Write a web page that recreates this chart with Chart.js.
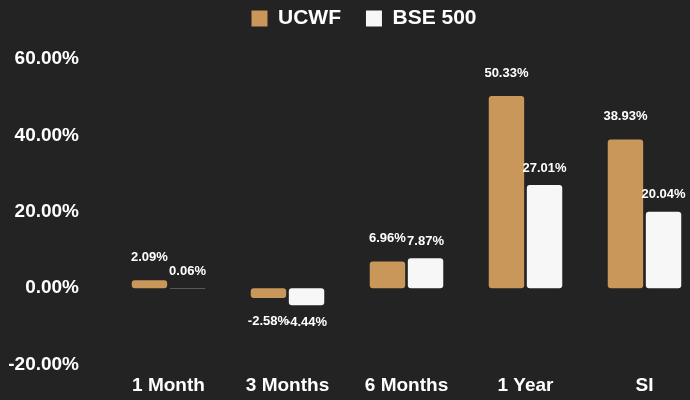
<!DOCTYPE html>
<html><head><meta charset="utf-8">
<script src="https://cdn.jsdelivr.net/npm/chart.js@4"></script>
<style>
html,body{margin:0;padding:0;background:#232323;overflow:hidden;}
#wrap{width:728px;height:406px;position:relative;}
</style></head>
<body><div id="wrap"><canvas id="c"></canvas></div>
<script>
const categories = ["1 Month", "3 Months", "6 Months", "1 Year", "SI"];
const ucwfValues = [2.09, -2.58, 6.96, 50.33, 38.93];
const bseValues = [0.06, -4.44, 7.87, 27.01, 20.04];
const seriesNames = ["UCWF", "BSE 500"];
const yMin = -20, yMax = 60, yStep = 20;

const FONT = "'Liberation Sans', Arial, sans-serif";

const valueLabels = {
  id: 'valueLabels',
  afterDatasetsDraw(chart) {
    const ctx = chart.ctx;
    ctx.save();
    ctx.font = "bold 13px " + FONT;
    ctx.fillStyle = '#ffffff';
    ctx.textAlign = 'center';
    ctx.textBaseline = 'middle';
    chart.data.datasets.forEach((ds, di) => {
      const meta = chart.getDatasetMeta(di);
      meta.data.forEach((bar, i) => {
        const v = ds.data[i];
        const off = di === 0 ? 23 : 17;
        const y = v >= 0 ? bar.y - off : bar.y + off;
        ctx.fillText(v.toFixed(2) + '%', bar.x, y);
      });
    });
    ctx.restore();
  }
};

const legendSpace = {
  id: 'legendSpace',
  beforeInit(chart) {
    const lg = chart.legend;
    const origFit = lg.fit;
    lg.fit = function () { origFit.call(this); this.height += 20; };
    const origDraw = lg.draw;
    lg.draw = function (...a) {
      this.ctx.save();
      this.ctx.translate(12, 0);
      origDraw.apply(this, a);
      this.ctx.restore();
    };
  }
};

new Chart(document.getElementById('c'), {
  type: 'bar',
  data: {
    labels: categories,
    datasets: [
      { label: seriesNames[0], data: ucwfValues, backgroundColor: '#C9975A', borderRadius: 3, borderSkipped: false },
      { label: seriesNames[1], data: bseValues, backgroundColor: '#F7F7F7', borderRadius: 3, borderSkipped: false }
    ]
  },
  options: {
    responsive: true,
    maintainAspectRatio: false,
    animation: false,
    datasets: { bar: { categoryPercentage: 0.64, barPercentage: 0.93 } },
    layout: { padding: { left: 0, right: 24, top: -17, bottom: 0 } },
    plugins: {
      legend: {
        position: 'top',
        labels: {
          color: '#ffffff',
          font: { family: FONT, size: 21, weight: 'bold' },
          boxWidth: 16, boxHeight: 16, padding: 25
        }
      },
      tooltip: { enabled: false }
    },
    scales: {
      x: {
        grid: { display: false, drawTicks: false },
        border: { display: false },
        ticks: { color: '#ffffff', font: { family: FONT, size: 19, weight: 'bold' }, padding: 10 },
        afterFit(s) { s.height = 29; }
      },
      y: {
        min: yMin, max: yMax,
        grid: { display: false, drawTicks: false },
        border: { display: false },
        ticks: {
          stepSize: yStep,
          color: '#ffffff',
          font: { family: FONT, size: 19, weight: 'bold' },
          padding: 30,
          callback: v => v.toFixed(2) + '%'
        },
        afterFit(s) { s.width = 109; }
      }
    }
  },
  plugins: [valueLabels, legendSpace]
});
</script></body></html>
